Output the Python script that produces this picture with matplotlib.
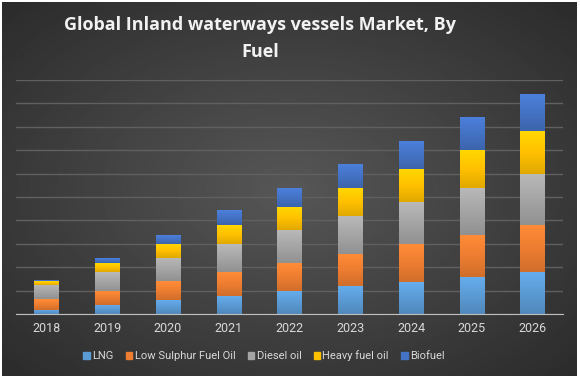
import numpy as np
import matplotlib.pyplot as plt
from matplotlib.colors import LinearSegmentedColormap, to_rgb
from matplotlib.patches import Rectangle

years = ['2018', '2019', '2020', '2021', '2022', '2023', '2024', '2025', '2026']
lng = [0.19, 0.40, 0.61, 0.78, 1.00, 1.21, 1.38, 1.59, 1.81]
low_sulphur = [0.43, 0.60, 0.78, 1.02, 1.19, 1.37, 1.62, 1.79, 2.01]
diesel = [0.60, 0.81, 1.01, 1.19, 1.41, 1.62, 1.79, 2.02, 2.18]
heavy_fuel = [0.17, 0.38, 0.60, 0.81, 0.98, 1.19, 1.41, 1.61, 1.83]
biofuel = [0.02, 0.21, 0.38, 0.60, 0.81, 1.02, 1.19, 1.41, 1.58]

series = [
    ('LNG', lng, '#5b9bd5'),
    ('Low Sulphur Fuel Oil', low_sulphur, '#ed7d31'),
    ('Diesel oil', diesel, '#a5a5a5'),
    ('Heavy fuel oil', heavy_fuel, '#ffc000'),
    ('Biofuel', biofuel, '#4472c4'),
]

W, H = 580, 378
fig = plt.figure(figsize=(W / 100, H / 100), dpi=100, facecolor='white')

# dark radial background
bg = fig.add_axes([2 / W, 2 / H, 575 / W, 374 / H])
yy, xx = np.mgrid[-1:1:200j, -1:1:300j]
r = np.sqrt(xx ** 2 + yy ** 2) / np.sqrt(2)
bg.imshow(0.34 - 0.17 * r, cmap='gray', vmin=0, vmax=1, aspect='auto',
          extent=[0, 1, 0, 1])
bg.set_axis_off()

ax = fig.add_axes([16 / W, (H - 314) / H, 547 / W, 234 / H])
ax.set_facecolor('none')
x = np.arange(len(years))
bottom = np.zeros(len(years))
for name, vals, col in series:
    bars = ax.bar(x, vals, 0.4, bottom=bottom, color=col, label=name, zorder=3)
    # vertical gradient on each segment, lighter on top
    c = np.array(to_rgb(col))
    cmap = LinearSegmentedColormap.from_list(name, [c * 0.88, c, np.minimum(c * 1.12, 1)])
    for b in bars:
        if b.get_height() <= 0:
            continue
        ax.imshow(np.linspace(0, 1, 50).reshape(-1, 1), cmap=cmap, aspect='auto',
                  origin='lower', zorder=4,
                  extent=[b.get_x(), b.get_x() + b.get_width(),
                          b.get_y(), b.get_y() + b.get_height()])
    bottom += np.array(vals)

ax.set_xlim(-0.5, len(years) - 0.5)
ax.set_ylim(0, 10)
ax.set_yticks(np.arange(0, 11, 1))
ax.yaxis.grid(True, color='#606060', linewidth=1, zorder=0)
ax.tick_params(axis='y', left=False, labelleft=False)
ax.tick_params(axis='x', length=0, colors='#d9d9d9', pad=6)
ax.set_xticks(x)
ax.set_xticklabels(years, family='Roboto', fontsize=9)
for s in ['top', 'right', 'left']:
    ax.spines[s].set_visible(False)
ax.spines['bottom'].set_color('#bfbfbf')
ax.spines['bottom'].set_zorder(5)

tx = 0.5 * (62 + 459) / W
fig.text(tx, 1 - 25 / H, 'Global Inland waterways vessels Market, By',
         ha='center', va='center', color='#f2f2f2', fontsize=13,
         fontweight='bold', family='Open Sans')
fig.text(tx, 1 - 52 / H, 'Fuel',
         ha='center', va='center', color='#f2f2f2', fontsize=13,
         fontweight='bold', family='Open Sans')

handles = [Rectangle((0, 0), 1, 1, color=col) for _, _, col in series]
fig.legend(handles, [s[0] for s in series], loc='center',
           bbox_to_anchor=(264 / W, 1 - 356 / H), ncol=5, frameon=False,
           prop={'family': 'Roboto', 'size': 8},
           labelcolor='#d9d9d9', handlelength=0.6,
           handleheight=0.6, handletextpad=0.2, columnspacing=1.1)

fig.savefig('out.png', dpi=100, facecolor='white')
